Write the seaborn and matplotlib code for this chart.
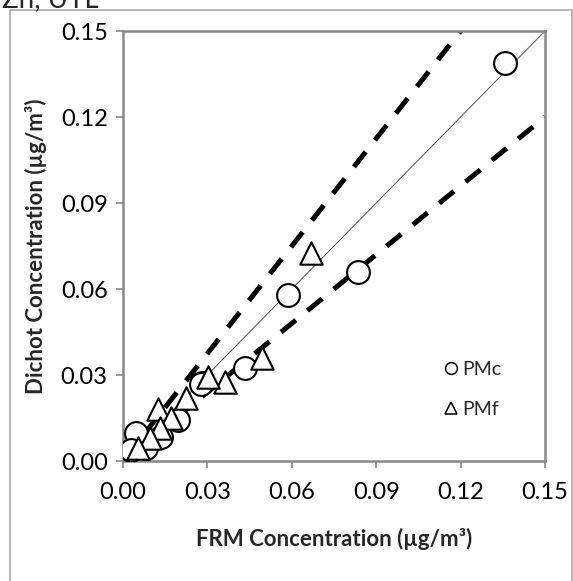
import matplotlib
matplotlib.use("Agg")
import matplotlib.pyplot as plt
import seaborn as sns
import numpy as np
import pandas as pd
from matplotlib.lines import Line2D
from matplotlib.patches import Rectangle

# ---- data ----
pmc_frm = [0.1357, 0.0837, 0.0587, 0.0434, 0.0280, 0.0277, 0.0196, 0.0136, 0.0083, 0.0047, 0.0030]
pmc_dichot = [0.1388, 0.0659, 0.0579, 0.0324, 0.0272, 0.0270, 0.0143, 0.0085, 0.0046, 0.0097, 0.0038]
pmf_frm = [0.0668, 0.0494, 0.0363, 0.0302, 0.0225, 0.0124, 0.0172, 0.0130, 0.0095, 0.0053]
pmf_dichot = [0.0724, 0.0359, 0.0276, 0.0293, 0.0219, 0.0180, 0.0149, 0.0114, 0.0079, 0.0044]
ref_x = [0.0, 0.15]
upper_slope = 1.25
lower_slope = 0.80
ticks = [0.00, 0.03, 0.06, 0.09, 0.12, 0.15]
tick_labels = ["0.00", "0.03", "0.06", "0.09", "0.12", "0.15"]

df = pd.DataFrame({
    "FRM": pmc_frm + pmf_frm,
    "Dichot": pmc_dichot + pmf_dichot,
    "Type": ["PMc"] * len(pmc_frm) + ["PMf"] * len(pmf_frm),
})

sns.set_style("white")
plt.rcParams["font.family"] = ["Lato", "DejaVu Sans"]

fig = plt.figure(figsize=(5.73, 5.81), dpi=100)
ax = fig.add_axes([123 / 573, 1 - 461 / 581, 422 / 573, 430 / 581])

# reference lines
xs = np.array(ref_x)
ax.plot(xs, xs, color="#555555", lw=0.7, zorder=1)
ax.plot(xs, upper_slope * xs, color="black", lw=3.6, dashes=(3.8, 3.0), zorder=1)
ax.plot(xs, lower_slope * xs, color="black", lw=3.6, dashes=(3.8, 3.0), zorder=1)

sub_c = df[df.Type == "PMc"]
sub_f = df[df.Type == "PMf"]
sns.scatterplot(data=sub_c, x="FRM", y="Dichot", marker="o", s=270, facecolor="white",
                edgecolor="black", linewidth=1.5, ax=ax, zorder=3, legend=False)
sns.scatterplot(data=sub_f, x="FRM", y="Dichot", marker="^", s=260, facecolor="white",
                edgecolor="black", linewidth=1.5, ax=ax, zorder=3, legend=False)

ax.set_xlim(0, 0.15)
ax.set_ylim(0, 0.15)
ax.set_xticks(ticks)
ax.set_yticks(ticks)
ax.set_xticklabels(tick_labels)
ax.set_yticklabels(tick_labels)
ax.tick_params(axis="both", labelsize=17, length=5, width=1.2, color="#888888",
               direction="out", bottom=True, left=True, pad=6, labelcolor="black")
ax.tick_params(axis="x", pad=10)
for sp in ax.spines.values():
    sp.set_color("#888888")
    sp.set_linewidth(1.8)

ax.set_xlabel("FRM Concentration (µg/m³)", fontsize=16, fontweight="bold", labelpad=18)
ax.set_ylabel("Dichot Concentration (µg/m³)", fontsize=16, fontweight="bold", labelpad=10)

handles = [
    Line2D([], [], marker="o", ls="none", markersize=8.5, markerfacecolor="white",
           markeredgecolor="black", markeredgewidth=1.1),
    Line2D([], [], marker="^", ls="none", markersize=8.5, markerfacecolor="white",
           markeredgecolor="black", markeredgewidth=1.1),
]
ax.legend(handles, ["PMc", "PMf"], loc="upper left", bbox_to_anchor=(0.735, 0.25),
          frameon=False, fontsize=14, labelspacing=1.15, handletextpad=0.1,
          handlelength=1.0, borderaxespad=0)

# outer frame and clipped title
fig.patches.append(Rectangle((10 / 573, -0.05), 1 - 10 / 573 - 1 / 573, 1.05 - 10 / 581,
                             transform=fig.transFigure, fill=False, edgecolor="#aaaaaa",
                             lw=1.2))
fig.text(2 / 573, 1 - 7 / 581, "Zn, UTL", fontsize=20, ha="left", va="baseline")

fig.savefig("out.png", dpi=100, facecolor="white")
